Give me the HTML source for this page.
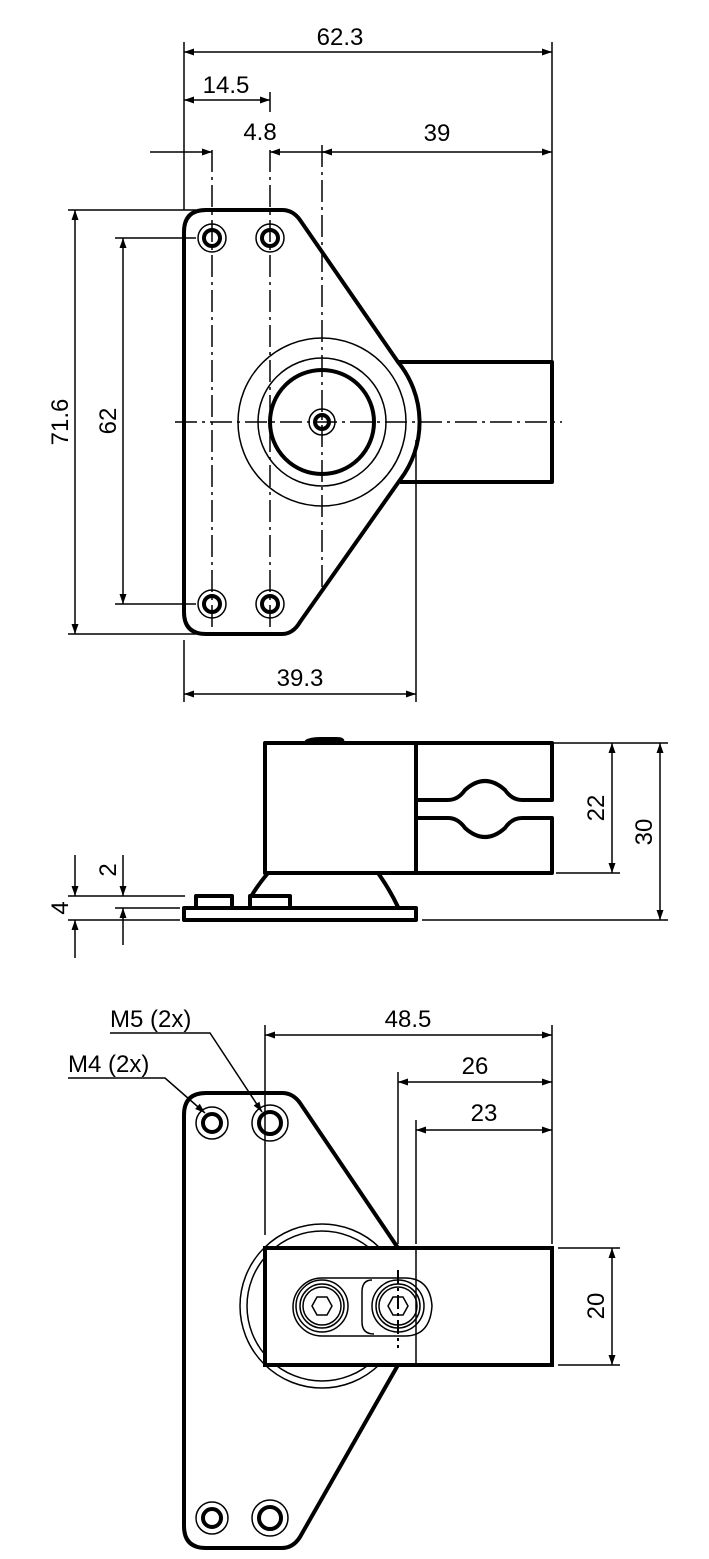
<!DOCTYPE html>
<html><head><meta charset="utf-8"><style>
html,body{margin:0;padding:0;background:#fff}
svg{display:block}
text{font-family:"Liberation Sans",sans-serif;font-size:24px;fill:#000}
.t{stroke:#000;stroke-width:4;fill:none;stroke-linejoin:round}
.n{stroke:#000;stroke-width:1.5;fill:none}
.c{stroke:#000;stroke-width:1.5;fill:none;stroke-dasharray:22 5 3 5}
</style></head><body>
<svg width="709" height="1559" viewBox="0 0 709 1559" xmlns="http://www.w3.org/2000/svg">
<defs>
<marker id="a" viewBox="0 0 10 10" refX="10" refY="5" markerWidth="14" markerHeight="10" markerUnits="userSpaceOnUse" orient="auto-start-reverse"><path d="M0,1.5 L10,5 L0,8.5 z" fill="#000"/></marker>
</defs>

<!-- ============ TOP VIEW ============ -->
<path class="t" d="M206,210 L282,210 Q293,210 300,220 L398,362 A95,95 0 0 1 400,480 L300,622 Q293,634 282,634 L206,634 Q184,634 184,612 L184,232 Q184,210 206,210 Z"/>
<path class="t" d="M398,362 L552,362 L552,482 L400,482"/>
<circle class="n" cx="322" cy="422" r="84"/>
<circle class="n" cx="322" cy="422" r="64"/>
<circle class="t" cx="322" cy="422" r="52"/>
<circle class="n" cx="322" cy="422" r="13"/>
<circle class="t" cx="322" cy="422" r="7"/>
<circle class="n" cx="212" cy="238" r="14"/><circle class="t" cx="212" cy="238" r="8"/>
<circle class="n" cx="270" cy="238" r="14"/><circle class="t" cx="270" cy="238" r="8"/>
<circle class="n" cx="212" cy="604" r="14"/><circle class="t" cx="212" cy="604" r="8"/>
<circle class="n" cx="270" cy="604" r="14"/><circle class="t" cx="270" cy="604" r="8"/>
<line class="c" x1="175" y1="422" x2="562" y2="422"/>
<line class="c" x1="212" y1="150" x2="212" y2="628"/>
<line class="c" x1="270" y1="150" x2="270" y2="628"/>
<line class="n" x1="270" y1="92" x2="270" y2="112"/>
<line class="c" x1="322" y1="145" x2="322" y2="592"/>
<line class="n" x1="184" y1="42" x2="184" y2="210"/>
<line class="n" x1="552" y1="42" x2="552" y2="360"/>
<line class="n" x1="416" y1="440" x2="416" y2="702"/>
<line class="n" x1="184" y1="640" x2="184" y2="702"/>
<line class="n" x1="68" y1="210" x2="196" y2="210"/>
<line class="n" x1="68" y1="634" x2="196" y2="634"/>
<line class="n" x1="115" y1="238" x2="196" y2="238"/>
<line class="n" x1="115" y1="604" x2="196" y2="604"/>
<line class="n" x1="184" y1="52" x2="552" y2="52" marker-start="url(#a)" marker-end="url(#a)"/>
<text x="340" y="45" text-anchor="middle">62.3</text>
<line class="n" x1="184" y1="100" x2="270" y2="100" marker-start="url(#a)" marker-end="url(#a)"/>
<text x="226" y="93" text-anchor="middle">14.5</text>
<line class="n" x1="150" y1="152" x2="212" y2="152" marker-end="url(#a)"/>
<line class="n" x1="330" y1="152" x2="270" y2="152" marker-end="url(#a)"/>
<text x="260" y="140" text-anchor="middle">4.8</text>
<line class="n" x1="322" y1="152" x2="552" y2="152" marker-start="url(#a)" marker-end="url(#a)"/>
<text x="437" y="141" text-anchor="middle">39</text>
<line class="n" x1="75" y1="210" x2="75" y2="634" marker-start="url(#a)" marker-end="url(#a)"/>
<text transform="translate(68,422) rotate(-90)" text-anchor="middle">71.6</text>
<line class="n" x1="123" y1="238" x2="123" y2="604" marker-start="url(#a)" marker-end="url(#a)"/>
<text transform="translate(116,421) rotate(-90)" text-anchor="middle">62</text>
<line class="n" x1="184" y1="694" x2="416" y2="694" marker-start="url(#a)" marker-end="url(#a)"/>
<text x="300" y="686" text-anchor="middle">39.3</text>

<!-- ============ SIDE VIEW ============ -->
<path class="t" d="M306,742 Q310,739 320,739 L336,739 Q344,739 342,742"/>
<rect class="t" x="265" y="743" width="151" height="130"/>
<path class="t" d="M416,743 L552,743 L552,800 L522,800 Q512,800 505,790 Q485,772 465,790 Q458,800 448,800 L416,800"/>
<path class="t" d="M416,818 L448,818 Q458,818 465,828 Q485,846 505,828 Q512,818 522,818 L552,818 L552,873 L416,873"/>
<path class="t" d="M268,873 L378,873 Q390,890 398,907"/>
<path class="t" d="M268,873 Q258,885 252,895"/>
<rect class="t" x="184" y="908" width="232" height="12"/>
<rect class="t" x="196" y="896" width="36" height="12"/>
<rect class="t" x="250" y="896" width="40" height="12"/>
<line class="n" x1="422" y1="743" x2="668" y2="743"/>
<line class="n" x1="556" y1="873" x2="620" y2="873"/>
<line class="n" x1="422" y1="920" x2="668" y2="920"/>
<line class="n" x1="612" y1="743" x2="612" y2="873" marker-start="url(#a)" marker-end="url(#a)"/>
<text transform="translate(604,808) rotate(-90)" text-anchor="middle">22</text>
<line class="n" x1="660" y1="743" x2="660" y2="920" marker-start="url(#a)" marker-end="url(#a)"/>
<text transform="translate(652,832) rotate(-90)" text-anchor="middle">30</text>
<line class="n" x1="68" y1="896" x2="185" y2="896"/>
<line class="n" x1="115" y1="908" x2="180" y2="908"/>
<line class="n" x1="68" y1="920" x2="180" y2="920"/>
<line class="n" x1="75" y1="855" x2="75" y2="896" marker-end="url(#a)"/>
<line class="n" x1="75" y1="958" x2="75" y2="920" marker-end="url(#a)"/>
<text transform="translate(68,908) rotate(-90)" text-anchor="middle">4</text>
<line class="n" x1="123" y1="855" x2="123" y2="896" marker-end="url(#a)"/>
<line class="n" x1="123" y1="945" x2="123" y2="908" marker-end="url(#a)"/>
<text transform="translate(116,870) rotate(-90)" text-anchor="middle">2</text>

<!-- ============ BOTTOM VIEW ============ -->
<circle class="n" cx="322" cy="1306" r="82"/>
<circle class="n" cx="322" cy="1306" r="75"/>
<path class="t" d="M206,1093 L282,1093 Q293,1093 300,1103 L398,1248 M398,1365 L300,1537 Q293,1548 282,1548 L206,1548 Q184,1548 184,1526 L184,1115 Q184,1093 206,1093"/>
<rect x="265" y="1248" width="287" height="117" fill="#fff" stroke="#000" stroke-width="4"/>
<line class="n" x1="416" y1="1248" x2="416" y2="1365"/>
<path class="n" d="M322,1278 L405,1278 Q430,1278 432,1306 Q430,1336 405,1336 L322,1336 A29,29 0 0 1 322,1278 Z"/>
<path class="n" d="M372,1280 Q362,1280 362,1292 L362,1322 Q362,1334 374,1334"/>
<circle class="n" cx="322" cy="1306" r="26"/><circle class="n" cx="322" cy="1306" r="22"/><circle class="n" cx="322" cy="1306" r="19"/>
<polygon class="n" points="312,1306 317,1297 327,1297 332,1306 327,1315 317,1315"/>
<circle class="n" cx="398" cy="1306" r="26"/><circle class="n" cx="398" cy="1306" r="22"/><circle class="n" cx="398" cy="1306" r="19"/>
<polygon class="n" points="388,1306 393,1297 403,1297 408,1306 403,1315 393,1315"/>
<line x1="398" y1="1270" x2="398" y2="1348" stroke="#000" stroke-width="2" stroke-dasharray="14 4 3 4"/>
<circle class="n" cx="212" cy="1123" r="16"/><circle class="t" cx="212" cy="1123" r="9"/>
<circle class="n" cx="270" cy="1123" r="18"/><circle class="t" cx="270" cy="1123" r="11"/>
<circle class="n" cx="212" cy="1518" r="16"/><circle class="t" cx="212" cy="1518" r="9"/>
<circle class="n" cx="270" cy="1518" r="18"/><circle class="t" cx="270" cy="1518" r="11"/>
<line class="n" x1="265" y1="1025" x2="265" y2="1235"/>
<line class="n" x1="552" y1="1025" x2="552" y2="1244"/>
<line class="n" x1="398" y1="1072" x2="398" y2="1244"/>
<line class="n" x1="416" y1="1120" x2="416" y2="1244"/>
<line class="n" x1="265" y1="1035" x2="552" y2="1035" marker-start="url(#a)" marker-end="url(#a)"/>
<text x="408" y="1027" text-anchor="middle">48.5</text>
<line class="n" x1="398" y1="1082" x2="552" y2="1082" marker-start="url(#a)" marker-end="url(#a)"/>
<text x="475" y="1074" text-anchor="middle">26</text>
<line class="n" x1="416" y1="1130" x2="552" y2="1130" marker-start="url(#a)" marker-end="url(#a)"/>
<text x="484" y="1121" text-anchor="middle">23</text>
<line class="n" x1="558" y1="1248" x2="620" y2="1248"/>
<line class="n" x1="558" y1="1365" x2="620" y2="1365"/>
<line class="n" x1="612" y1="1248" x2="612" y2="1365" marker-start="url(#a)" marker-end="url(#a)"/>
<text transform="translate(604,1306) rotate(-90)" text-anchor="middle">20</text>
<text x="110" y="1027">M5 (2x)</text>
<polyline class="n" points="110,1033 210,1033 262,1112" marker-end="url(#a)"/>
<text x="68" y="1072">M4 (2x)</text>
<polyline class="n" points="68,1078 165,1078 205,1113" marker-end="url(#a)"/>
</svg>
</body></html>
